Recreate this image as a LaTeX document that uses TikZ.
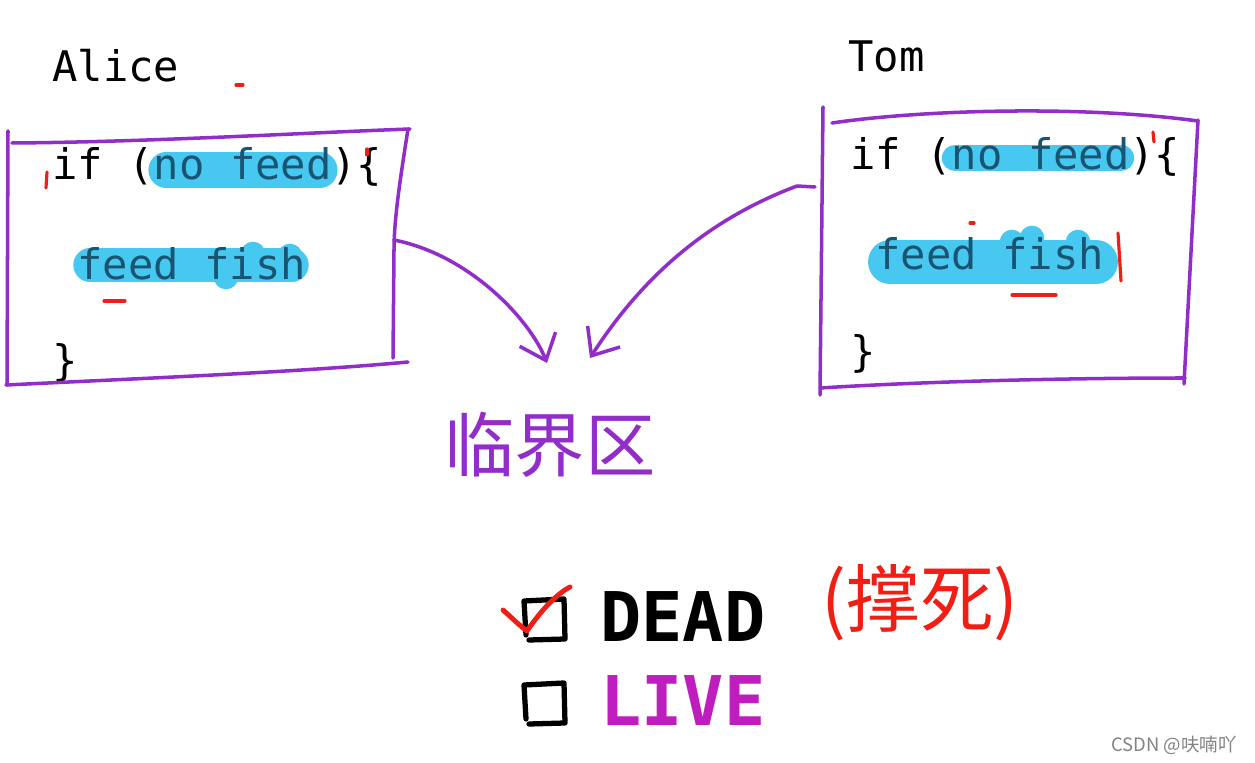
\documentclass[tikz,border=0pt]{standalone}
\usepackage{fontspec}
\setmonofont{DejaVu Sans Mono}
\newfontfamily\cjk{Noto Sans CJK SC}
\usetikzlibrary{arrows.meta}
\definecolor{penPurple}{RGB}{145,45,200}
\definecolor{hlBlue}{RGB}{70,200,240}
\definecolor{hlInk}{RGB}{25,85,115}
\definecolor{penRed}{RGB}{240,30,20}
\definecolor{liveMag}{RGB}{190,30,190}
\definecolor{markGray}{RGB}{130,130,130}
\newcommand{\codefont}{\fontsize{24}{28}\selectfont\ttfamily}
\newcommand{\hlline}[4]{%
  \draw[hlBlue,line cap=round,line width=#4pt] (#1,#3) -- (#2,#3);}
\newcommand{\hlblob}[3]{\fill[hlBlue] (#1,#2) circle (#3pt);}
\newcommand{\rmark}[4]{\draw[penRed,line width=1.8pt,line cap=round] (#1,#2) -- (#3,#4);}
\newcommand{\cbox}[2]{%
  \draw[line width=3pt,line cap=round,line join=round]
    ({#1+2},{#2+36}) -- (#1,{#2+2}) -- ({#1+40},#2) -- ({#1+41},{#2+40}) -- ({#1+5},{#2+41});}

\begin{document}
\begin{tikzpicture}[x=0.02cm,y=-0.02cm,
  pen/.style={penPurple,line width=2pt,line cap=round,line join=round},
  code/.style={anchor=base west,inner sep=0pt,font=\codefont},
  hand/.style={-{Straight Barb[length=13pt,width=22pt]}}]
  \useasboundingbox (0,0) rectangle (1255,763);
  % names
  \node[code] (alice) at (52,82) {Alice};
  \node[code] (tom) at (848,72) {Tom};
  % highlighter strokes
  \hlline{166}{320}{170}{20}
  \hlline{90}{292}{265}{19}
  \hlblob{253}{254}{7} \hlblob{290}{256}{7} \hlblob{226}{277}{7} \hlblob{208}{262}{6}
  \hlline{955}{1121}{158}{15}
  \hlline{890}{1096}{262}{25}
  \hlblob{1012}{242}{7} \hlblob{1032}{238}{7} \hlblob{1078}{242}{7} \hlblob{1098}{266}{7}
  % Alice code
  \node[code] (aIf) at (52,180) {if (\textcolor{hlInk}{no feed})\{};
  \node[code] (aFeed) at (77,280) {\textcolor{hlInk}{feed fish}};
  \node[code] (aEnd) at (52,376) {\}};
  % Tom code
  \node[code] (tIf) at (850,170) {if (\textcolor{hlInk}{no feed})\{};
  \node[code] (tFeed) at (875,270) {\textcolor{hlInk}{feed fish}};
  \node[code] (tEnd) at (850,367) {\}};
  % boxes
  \draw[pen] (8,131) -- (7,385);
  \draw[pen] (12,143) .. controls (150,142) and (300,133) .. (410,129);
  \draw[pen] (408,129) .. controls (400,180) and (394,220) .. (394,250) -- (393,358);
  \draw[pen] (6,385) .. controls (150,378) and (300,372) .. (408,362);
  \draw[pen] (823,107) -- (820,395);
  \draw[pen] (832,123) .. controls (920,110) and (1080,105) .. (1198,121);
  \draw[pen] (1198,120) -- (1184,384);
  \draw[pen] (820,388) .. controls (950,380) and (1100,378) .. (1185,378);
  % red pen marks
  \rmark{47}{172}{46}{188}
  \rmark{236}{85}{243}{85}
  \rmark{367}{149}{367}{155}
  \rmark{104}{301}{125}{301}
  \rmark{1153}{132}{1154}{142}
  \rmark{970}{223}{974}{223}
  \rmark{1118}{233}{1121}{281}
  \rmark{1012}{295}{1056}{295}
  % critical section
  \node[penPurple,font=\cjk\fontsize{40}{44}\selectfont,inner sep=0pt] (zone) at (550,445) {临界区};
  \coordinate (aliceOut) at (394,240);
  \coordinate (tomOut) at (815,187);
  \coordinate (aliceTip) at (547,363);
  \coordinate (tomTip) at (590,358);
  \draw[pen,hand] (aliceOut) .. controls (470,255) and (530,320) .. (aliceTip);
  \draw[pen,hand] (tomOut) -- (797,186) .. controls (720,215) and (650,265) .. (tomTip);
  % answers
  \cbox{524}{599}
  \cbox{524}{683}
  \draw[penRed,line width=2.8pt,line cap=round,line join=round]
    (503,610) .. controls (512,618) and (520,626) .. (527,631) .. controls (540,612) and (555,595) .. (570,587);
  \node[anchor=base west,inner sep=0pt,font=\fontsize{39}{44}\selectfont\ttfamily\bfseries] (dead) at (600,642) {DEAD};
  \node[liveMag,anchor=base west,inner sep=0pt,font=\fontsize{39}{44}\selectfont\ttfamily\bfseries] (live) at (600,725) {LIVE};
  \node[penRed,font=\cjk\fontsize{42}{46}\selectfont,inner sep=0pt] (note) at (920,603) {(撑死)};
  \node[markGray,font=\cjk\fontsize{10.5}{12}\selectfont,inner sep=0pt] (mark) at (1174,745) {CSDN @呋喃吖};
\end{tikzpicture}
\end{document}
